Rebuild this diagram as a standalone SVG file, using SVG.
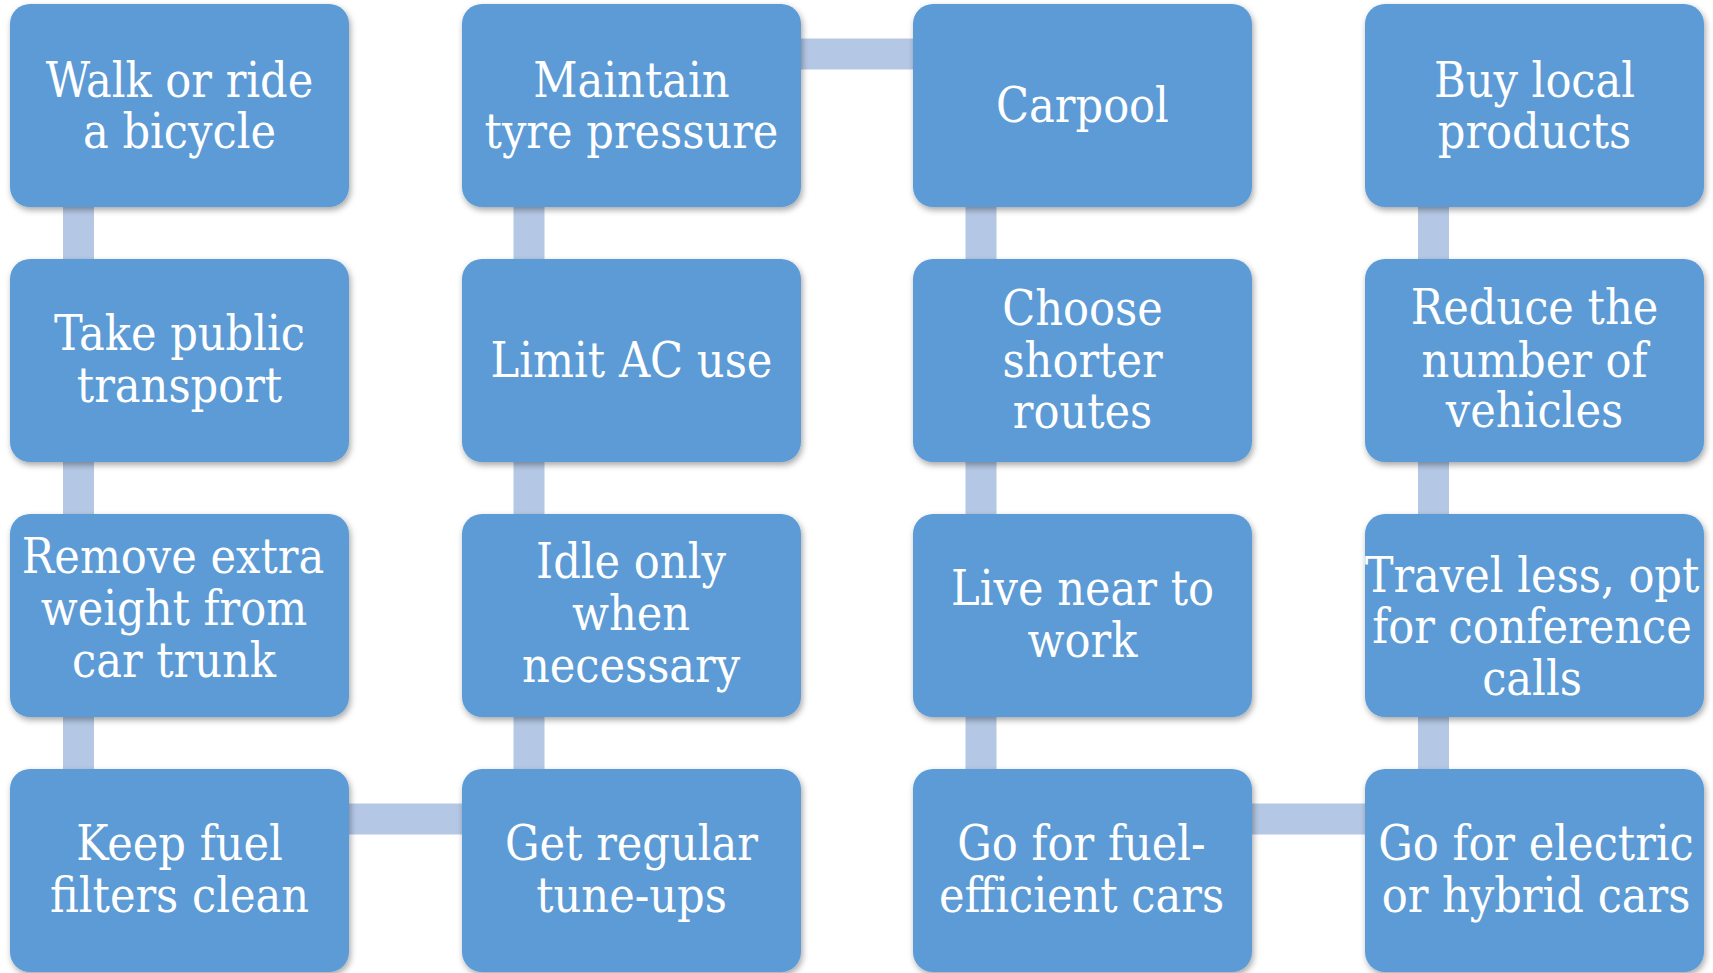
<svg xmlns="http://www.w3.org/2000/svg" width="1713" height="973" viewBox="0 0 1713 973">
<defs>
<filter id="sh" x="-10%" y="-10%" width="125%" height="130%">
<feDropShadow dx="1.5" dy="3" stdDeviation="3" flood-color="#000" flood-opacity="0.35"/>
</filter>
<style>
.box{fill:#5B9BD5;filter:url(#sh)}
.lbl{font-family:"DejaVu Serif","Liberation Serif",serif;font-stretch:condensed;font-size:48px;fill:#fff;text-anchor:middle}
.con{stroke:#B4C8E5;stroke-width:31;fill:none}
</style>
</defs>
<rect width="1713" height="973" fill="#fff"/>
<g id="connectors">
<line class="con" x1="78.5" y1="200" x2="78.5" y2="265"/>
<line class="con" x1="78.5" y1="455" x2="78.5" y2="520"/>
<line class="con" x1="78.5" y1="710" x2="78.5" y2="775"/>
<line class="con" x1="340" y1="819" x2="470" y2="819"/>
<line class="con" x1="529" y1="775" x2="529" y2="710"/>
<line class="con" x1="529" y1="520" x2="529" y2="455"/>
<line class="con" x1="529" y1="265" x2="529" y2="200"/>
<line class="con" x1="790" y1="54" x2="920" y2="54"/>
<line class="con" x1="981" y1="200" x2="981" y2="265"/>
<line class="con" x1="981" y1="455" x2="981" y2="520"/>
<line class="con" x1="981" y1="710" x2="981" y2="775"/>
<line class="con" x1="1243" y1="819" x2="1373" y2="819"/>
<line class="con" x1="1433.5" y1="775" x2="1433.5" y2="710"/>
<line class="con" x1="1433.5" y1="520" x2="1433.5" y2="455"/>
<line class="con" x1="1433.5" y1="265" x2="1433.5" y2="200"/>
</g>
<g id="n1"><rect class="box" x="10" y="4" width="339" height="203" rx="20"/><text class="lbl"><tspan x="179.5" y="97">Walk or ride</tspan><tspan x="179.5" y="148">a bicycle</tspan></text></g>
<g id="n2"><rect class="box" x="10" y="259" width="339" height="203" rx="20"/><text class="lbl"><tspan x="179.5" y="350">Take public</tspan><tspan x="179.5" y="401.5">transport</tspan></text></g>
<g id="n3"><rect class="box" x="10" y="514" width="339" height="203" rx="20"/><text class="lbl"><tspan x="173" y="573">Remove extra</tspan><tspan x="174" y="625">weight from</tspan><tspan x="174" y="676.5">car trunk</tspan></text></g>
<g id="n4"><rect class="box" x="10" y="769" width="339" height="203" rx="20"/><text class="lbl"><tspan x="179.5" y="860">Keep fuel</tspan><tspan x="179.5" y="911.5">filters clean</tspan></text></g>
<g id="n5"><rect class="box" x="462" y="769" width="339" height="203" rx="20"/><text class="lbl"><tspan x="631.5" y="860">Get regular</tspan><tspan x="631.5" y="911.5">tune-ups</tspan></text></g>
<g id="n6"><rect class="box" x="462" y="514" width="339" height="203" rx="20"/><text class="lbl"><tspan x="631" y="578">Idle only</tspan><tspan x="631" y="630">when</tspan><tspan x="631" y="681.5">necessary</tspan></text></g>
<g id="n7"><rect class="box" x="462" y="259" width="339" height="203" rx="20"/><text class="lbl"><tspan x="631.5" y="377">Limit AC use</tspan></text></g>
<g id="n8"><rect class="box" x="462" y="4" width="339" height="203" rx="20"/><text class="lbl"><tspan x="631.5" y="97">Maintain</tspan><tspan x="631.5" y="148">tyre pressure</tspan></text></g>
<g id="n9"><rect class="box" x="913" y="4" width="339" height="203" rx="20"/><text class="lbl"><tspan x="1082.5" y="122">Carpool</tspan></text></g>
<g id="n10"><rect class="box" x="913" y="259" width="339" height="203" rx="20"/><text class="lbl"><tspan x="1082.5" y="325">Choose</tspan><tspan x="1082.5" y="376.5">shorter</tspan><tspan x="1082.5" y="427.5">routes</tspan></text></g>
<g id="n11"><rect class="box" x="913" y="514" width="339" height="203" rx="20"/><text class="lbl"><tspan x="1082.5" y="605">Live near to</tspan><tspan x="1082.5" y="656.5">work</tspan></text></g>
<g id="n12"><rect class="box" x="913" y="769" width="339" height="203" rx="20"/><text class="lbl"><tspan x="1081.5" y="860">Go for fuel-</tspan><tspan x="1081.5" y="911.5">efficient cars</tspan></text></g>
<g id="n13"><rect class="box" x="1365" y="769" width="339" height="203" rx="20"/><text class="lbl"><tspan x="1536" y="860">Go for electric</tspan><tspan x="1536" y="911.5">or hybrid cars</tspan></text></g>
<g id="n14"><rect class="box" x="1365" y="514" width="339" height="203" rx="20"/><text class="lbl"><tspan x="1532" y="591.5">Travel less, opt</tspan><tspan x="1532" y="643">for conference</tspan><tspan x="1532" y="695">calls</tspan></text></g>
<g id="n15"><rect class="box" x="1365" y="259" width="339" height="203" rx="20"/><text class="lbl"><tspan x="1534.5" y="324">Reduce the</tspan><tspan x="1534.5" y="376.5">number of</tspan><tspan x="1534.5" y="427">vehicles</tspan></text></g>
<g id="n16"><rect class="box" x="1365" y="4" width="339" height="203" rx="20"/><text class="lbl"><tspan x="1534.5" y="97">Buy local</tspan><tspan x="1534.5" y="148">products</tspan></text></g>
</svg>
